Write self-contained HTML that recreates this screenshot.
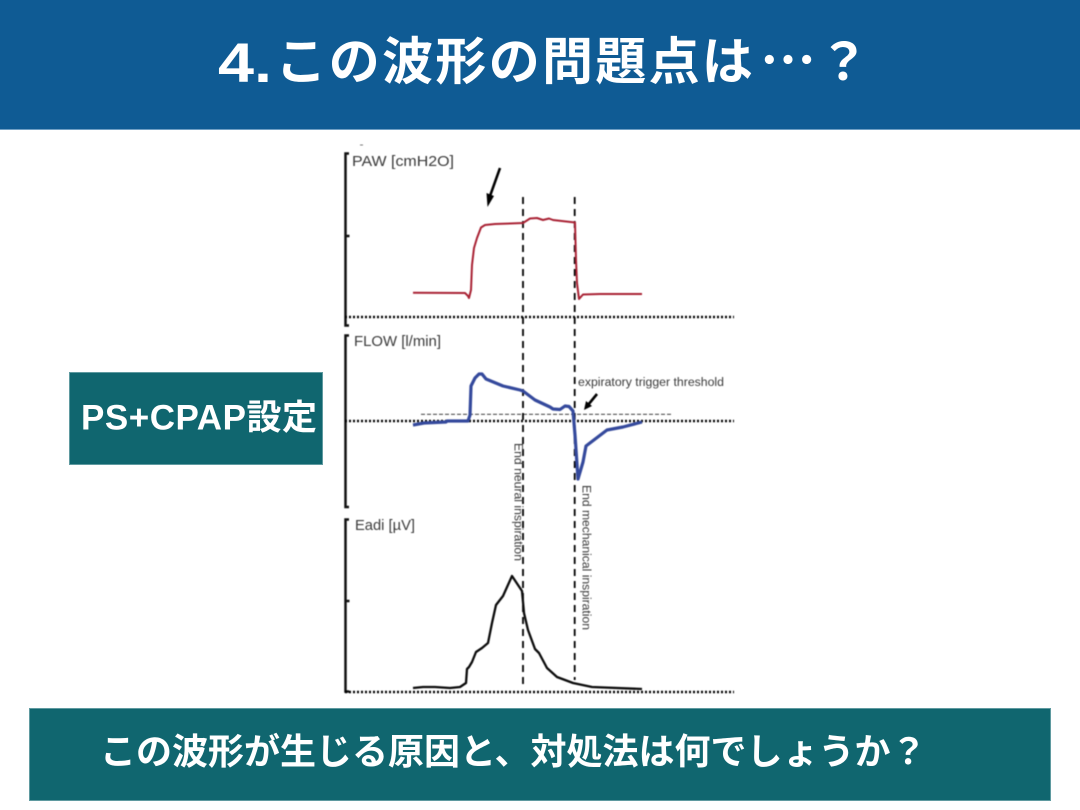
<!DOCTYPE html>
<html lang="ja">
<head>
<meta charset="utf-8">
<style>
html,body{margin:0;padding:0;background:#fff;width:1080px;height:810px;overflow:hidden}
svg{display:block}
.t{font-family:"Liberation Sans","Noto Sans CJK JP",sans-serif;font-weight:700;fill:#fff}
.j{font-family:"Noto Sans CJK JP",sans-serif;font-weight:700;fill:#fff}
.g{font-family:"Liberation Sans","DejaVu Sans",sans-serif;fill:#3a3a3a}
.c{filter:blur(0.4px)}
</style>
</head>
<body>
<svg width="1080" height="810" viewBox="0 0 1080 810" xmlns="http://www.w3.org/2000/svg">
<rect width="1080" height="810" fill="#fff"/>
<rect x="0" y="0" width="1080" height="129" fill="#0f5b94"/>
<rect x="0" y="129" width="1080" height="1" fill="#6f9fc4"/>
<text class="t" x="218" y="82" font-size="56" textLength="54" lengthAdjust="spacingAndGlyphs">4.</text>
<text class="j" x="275.500" y="79.500" font-size="51" letter-spacing="2.300">この波形の問題点は</text>
<text class="j" x="760" y="81" font-size="56">…</text>
<text class="j" x="818" y="80" font-size="51">？</text>

<rect x="69.500" y="372.500" width="253" height="92" fill="#10666f" stroke="#5f9aa0" stroke-width="1"/>
<text class="t" x="81" y="429.500" font-size="35" textLength="236" lengthAdjust="spacing">PS+CPAP設定</text>

<rect x="29.500" y="708.500" width="1021" height="92" fill="#10666f" stroke="#5f9aa0" stroke-width="1"/>
<text class="j" x="100" y="764" font-size="36">この波形が生じる原因と、対処法は何でしょうか？</text>

<g class="c">
<g fill="none">
  <path d="M360 145H363" stroke="#777" stroke-width="1"/>
  <g stroke="#111" stroke-width="2.500">
    <path d="M349 153.500H345.500V325.500H349"/>
    <path d="M345 236H349.500"/>
    <path d="M349 335.500H345.500V507H349"/>
    <path d="M349 519.500H345.500V691.500H349"/>
    <path d="M345 601H349.500"/>
  </g>
  <g stroke="#000" stroke-width="2.400" stroke-dasharray="2 2">
    <path d="M345 317H734"/>
    <path d="M345 421H734"/>
    <path d="M345 692H734"/>
  </g>
  <path d="M421 414.300H672" stroke="#222" stroke-width="0.900" stroke-dasharray="4 2"/>
  <g stroke="#000" stroke-width="1.800" stroke-dasharray="7 5">
    <path d="M523 197V686"/>
    <path d="M574.700 197V680"/>
  </g>
  <path d="M413 292.700L465 293L468 296L469 298L471 290L472 265L474 248L477 238L481 227.500L485 225L495 224L523 223L530 218.500L537 218L543 220L549 218.500L553 220L575 222.500L576 260L577 283L579 299L583 294.500L600 294L642 294" stroke="#a92234" stroke-width="2" stroke-linejoin="round"/>
  <path d="M413 425L424 423L446 422L447 421L468 421L470 415L471 386L475 378L479 374L482 374L486 379L503 386L520 390L523 391L535 400L550 407L553 409L560 409.500L565 406L569 406.500L573 411L575 435L578 479L583 462L586 446L607 430L623 427L642 422" stroke="#34499c" stroke-width="3.200" stroke-linejoin="round"/>
  <path d="M413 688L423 687L435 687L450 688L460 687L466 683L467 669L469 667L472 662L476 652L482 648L488 643L492 623L496 605L503 596L512 576L522 591L524 613L528 630L535 649L539 653L547 668L557 677L573 683L592 687L642 689" stroke="#0c0c0c" stroke-width="2.300" stroke-linejoin="round"/>
  <path d="M500 168L490 196" stroke="#000" stroke-width="2.600"/>
  <path d="M597 394L588 405" stroke="#000" stroke-width="2.600"/>
</g>
<path d="M487.500 207L486.500 193L494 196Z" fill="#000"/>
<path d="M584 410L586 401L592 406Z" fill="#000"/>

<text class="g" x="352" y="166" font-size="14.500" textLength="102" lengthAdjust="spacingAndGlyphs">PAW [cmH2O]</text>
<text class="g" x="354" y="346" font-size="14.500" textLength="87" lengthAdjust="spacingAndGlyphs">FLOW [l/min]</text>
<text class="g" x="355" y="530" font-size="14.500" textLength="60" lengthAdjust="spacingAndGlyphs">Eadi [µV]</text>
<text class="g" x="578" y="386" font-size="11.500" textLength="146" lengthAdjust="spacingAndGlyphs">expiratory trigger threshold</text>
<text class="g" transform="translate(514.500 443) rotate(90)" font-size="11.500" textLength="118" lengthAdjust="spacingAndGlyphs">End neural inspiration</text>
<text class="g" transform="translate(582.500 485) rotate(90)" font-size="11.500" textLength="145" lengthAdjust="spacingAndGlyphs">End mechanical inspiration</text>
</g>
</svg>
</body>
</html>
